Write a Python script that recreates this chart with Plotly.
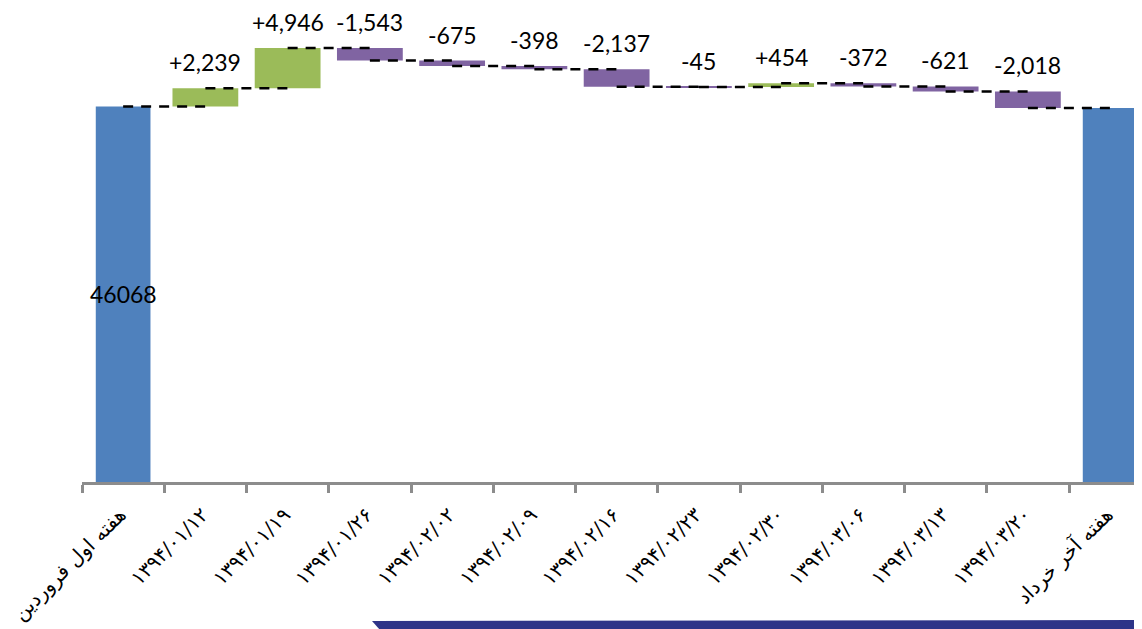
import numpy as np
import plotly.graph_objects as go

# ---------------- data ----------------
categories = [
    "هفته اول فروردین",
    "۱۳۹۴/۰۱/۱۲",
    "۱۳۹۴/۰۱/۱۹",
    "۱۳۹۴/۰۱/۲۶",
    "۱۳۹۴/۰۲/۰۲",
    "۱۳۹۴/۰۲/۰۹",
    "۱۳۹۴/۰۲/۱۶",
    "۱۳۹۴/۰۲/۲۳",
    "۱۳۹۴/۰۲/۳۰",
    "۱۳۹۴/۰۳/۰۶",
    "۱۳۹۴/۰۳/۱۳",
    "۱۳۹۴/۰۳/۲۰",
    "هفته آخر خرداد",
]
start_value = 46068
changes = [2239, 4946, -1543, -675, -398, -2137, -45, 454, -372, -621, -2018]
start_label = "46068"

# ---------------- derived ----------------
levels = np.cumsum([start_value] + changes)          # level after each bar (0..11)
measures = ["absolute"] + ["relative"] * len(changes) + ["total"]
y_vals = [start_value] + changes + [0]
widths = [0.665] + [0.8] * len(changes) + [0.665]

BLUE = "#4F81BD"
GREEN = "#9BBB59"
PURPLE = "#8064A2"

fig = go.Figure()
fig.add_trace(go.Waterfall(
    x=categories,
    y=y_vals,
    measure=measures,
    width=widths,
    increasing=dict(marker=dict(color=GREEN)),
    decreasing=dict(marker=dict(color=PURPLE)),
    totals=dict(marker=dict(color=BLUE)),
    connector=dict(visible=False),
    showlegend=False,
    hoverinfo="skip",
))

# dashed connectors centre-to-centre
cx, cy = [], []
for i in range(len(categories) - 1):
    cx += [categories[i], categories[i + 1], None]
    cy += [float(levels[i]), float(levels[i]), None]
fig.add_trace(go.Scatter(
    x=cx, y=cy, mode="lines",
    line=dict(color="black", width=2.5, dash="10px,8px"),
    showlegend=False, hoverinfo="skip",
))

annotations = []
for i, ch in enumerate(changes):
    before = float(levels[i])
    after = float(levels[i + 1])
    annotations.append(dict(
        x=categories[i + 1], y=max(before, after),
        xref="x", yref="y", text=f"{ch:+,}",
        showarrow=False, yanchor="bottom", yshift=10,
        font=dict(family="Lato", size=23, color="black"),
    ))
annotations.append(dict(
    x=categories[0], y=start_value / 2, xref="x", yref="y",
    text=start_label, showarrow=False,
    font=dict(family="Lato", size=23, color="black"),
))

# layout geometry (the page adds an 8px body offset)
OFF = 8
W, H = 1142, 629
PLOT_LEFT_PAGE, PLOT_BOTTOM_PAGE = 82, 482
ML = PLOT_LEFT_PAGE - OFF
MT = 0
MB = H - (PLOT_BOTTOM_PAGE - OFF)
MR = 0
plot_w = W - ML - MR
plot_h = H - MT - MB
unit = 82.25
px_per_value = 375.5 / start_value
y_max = plot_h / px_per_value


def px2paper(px, py):
    # page pixel -> paper coordinates
    fx, fy = px - OFF, py - OFF
    return (fx - ML) / plot_w, (H - MB - fy) / plot_h


p1 = px2paper(372, 621)
p2 = px2paper(1150, 620)
p3 = px2paper(1150, 630)
p4 = px2paper(380, 630)
path = f"M {p1[0]},{p1[1]} L {p2[0]},{p2[1]} L {p3[0]},{p3[1]} L {p4[0]},{p4[1]} Z"

fig.update_layout(
    width=W, height=H,
    margin=dict(l=ML, r=MR, t=MT, b=MB, pad=0, autoexpand=False),
    paper_bgcolor="white", plot_bgcolor="white",
    annotations=annotations,
    shapes=[dict(type="path", path=path, xref="paper", yref="paper",
                 fillcolor="#2E3488", line=dict(width=0), layer="above")],
    xaxis=dict(
        type="category",
        automargin=False,
        range=[-0.5, -0.5 + plot_w / unit],
        showline=True, linecolor="#8C8C8C", linewidth=3,
        ticks="outside", tickson="boundaries", ticklen=8, tickwidth=3,
        tickcolor="#8C8C8C",
        tickangle=-45,
        ticklabelstandoff=10, ticklabelshift=-3,
        tickfont=dict(family="DejaVu Sans", size=20, color="black"),
        showgrid=False, zeroline=False, fixedrange=True,
    ),
    yaxis=dict(
        range=[0, y_max], visible=False, showgrid=False, zeroline=False,
        fixedrange=True, automargin=False,
    ),
)

fig.write_html("out.html")
